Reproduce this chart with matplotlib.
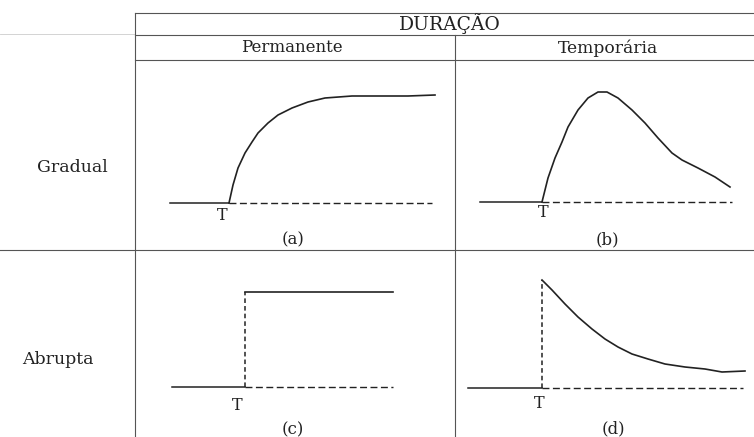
import matplotlib.pyplot as plt

# Tabela de duracao x forma do impacto (intervencao no instante T)
header_top = "DURAÇÃO"
col_labels = ["Permanente", "Temporária"]
row_labels = ["Gradual", "Abrupta"]
panel_tags = ["(a)", "(b)", "(c)", "(d)"]

# tempo relativo a T (T = 0) e nivel da resposta (linha de base = 0)
# (a) gradual permanente
a_t = [0, 0.2, 0.45, 0.8, 1.15, 1.45, 1.95, 2.45, 3.15, 3.95, 4.8, 6.15, 7.3, 8.95, 10.3]
a_y = [0, 0.18, 0.35, 0.50, 0.61, 0.70, 0.80, 0.88, 0.95, 1.01, 1.05, 1.07, 1.07, 1.07, 1.08]
a_base = [-2.95, 10.15]

# (b) gradual temporaria
b_t = [0, 0.3, 0.65, 1.0, 1.3, 1.8, 2.3, 2.8, 3.25, 3.8, 4.5, 5.15, 5.8, 6.5, 7.0, 7.8, 8.65, 9.4]
b_y = [0, 0.24, 0.44, 0.60, 0.75, 0.92, 1.04, 1.10, 1.10, 1.04, 0.92, 0.79, 0.64, 0.49,
       0.42, 0.34, 0.25, 0.15]
b_base = [-3.1, 9.5]

# (c) abrupta permanente
c_t = [0, 7.4]
c_y = [0.95, 0.95]
c_base = [-3.65, 7.4]

# (d) abrupta temporaria
d_t = [0, 0.5, 1.15, 1.8, 2.5, 3.15, 3.8, 4.5, 5.3, 6.15, 7.15, 8.15, 9.0, 10.15]
d_y = [1.08, 0.98, 0.84, 0.71, 0.59, 0.49, 0.41, 0.34, 0.29, 0.24, 0.21, 0.19, 0.16, 0.17]
d_base = [-3.7, 10.05]

W, H = 754, 437
INK = "#222222"
GRID = "#555555"
FONT = "DejaVu Serif"

fig = plt.figure(figsize=(W / 100, H / 100), dpi=100)
fig.patch.set_facecolor("white")

# eixo de layout em pixels (so linhas da tabela e rotulos)
ax = fig.add_axes([0, 0, 1, 1])
ax.set_xlim(0, W)
ax.set_ylim(H, 0)
ax.axis("off")

x_left, x_mid = 135, 455
for y, x0 in [(13, x_left), (35, x_left), (60, x_left), (250, 0)]:
    ax.plot([x0, W], [y, y], color=GRID, lw=0.8)
ax.plot([0, x_left], [34, 34], color="#cccccc", lw=0.6)
ax.plot([x_left, x_left], [13, H], color=GRID, lw=0.8)
ax.plot([x_mid, x_mid], [35, H], color=GRID, lw=0.8)

ax.text(450, 24, header_top, ha="center", va="center", fontsize=13.5,
        family=FONT, color=INK)
ax.text(292, 48, col_labels[0], ha="center", va="center", fontsize=12,
        family=FONT, color=INK)
ax.text(608, 48, col_labels[1], ha="center", va="center", fontsize=12.3,
        family=FONT, color=INK)
ax.text(72, 168, row_labels[0], ha="center", va="center", fontsize=12.5,
        family=FONT, color=INK)
ax.text(58, 360, row_labels[1], ha="center", va="center", fontsize=12.5,
        family=FONT, color=INK)
for tag, (x, y) in zip(panel_tags, [(293, 240), (607, 240), (293, 430), (613, 429)]):
    ax.text(x, y, tag, ha="center", va="center", fontsize=12, family=FONT, color=INK)


def panel(tx, by):
    # origem do painel: instante T (tx) sobre a linha de base (by), em pixels
    left = tx - 80
    bottom = H - (by + 50)
    p = fig.add_axes([left / W, bottom / H, 300 / W, 180 / H])
    p.set_xlim(-4, 11)
    p.set_ylim(-0.5, 1.3)
    p.axis("off")
    p.patch.set_alpha(0)
    return p


def baseline(p, base):
    p.plot([base[0], 0], [0, 0], color=INK, lw=1.1, clip_on=False)
    p.plot([0, base[1]], [0, 0], color=INK, lw=1.0, dashes=(5, 2.5), clip_on=False)


pa = panel(229, 203)
baseline(pa, a_base)
pa.plot(a_t, a_y, color=INK, lw=1.2, clip_on=False)
pa.text(-0.35, -0.13, "T", ha="center", va="center", fontsize=11.5, family=FONT, color=INK)

pb = panel(542, 202)
baseline(pb, b_base)
pb.plot(b_t, b_y, color=INK, lw=1.2, clip_on=False)
pb.text(0.05, -0.11, "T", ha="center", va="center", fontsize=11.5, family=FONT, color=INK)

pc = panel(245, 387)
baseline(pc, c_base)
pc.plot([0, 0], [0, c_y[0]], color=INK, lw=1.1, dashes=(3, 2), clip_on=False)
pc.plot(c_t, c_y, color=INK, lw=1.2, clip_on=False)
pc.text(-0.4, -0.18, "T", ha="center", va="center", fontsize=11.5, family=FONT, color=INK)

pd_ = panel(542, 388)
baseline(pd_, d_base)
pd_.plot([0, 0], [0, d_y[0]], color=INK, lw=1.1, dashes=(3, 2), clip_on=False)
pd_.plot(d_t, d_y, color=INK, lw=1.2, clip_on=False)
pd_.text(-0.15, -0.15, "T", ha="center", va="center", fontsize=11.5, family=FONT, color=INK)

fig.savefig("out.png", dpi=100)
